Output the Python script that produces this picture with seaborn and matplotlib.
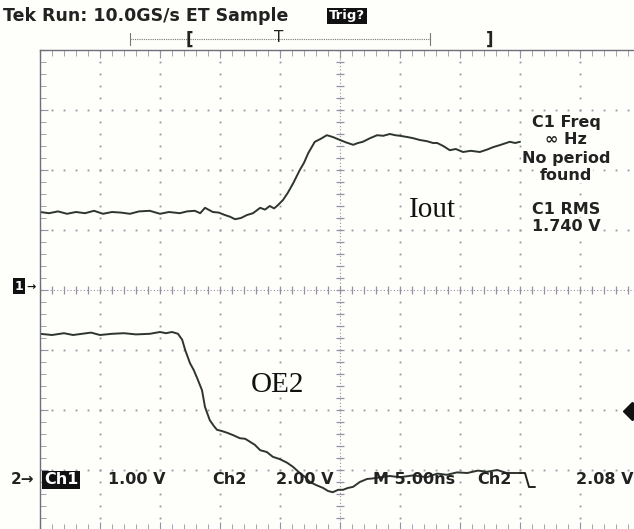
import numpy as np
import matplotlib
matplotlib.use("Agg")
import matplotlib.pyplot as plt
import seaborn as sns

# screen values in divisions (x: -5..5, y: -4..4)
iout_x = [-5.00, -4.85, -4.70, -4.55, -4.40, -4.25, -4.10, -3.95, -3.80, -3.65, -3.50, -3.35,
          -3.17, -3.00, -2.85, -2.67, -2.55, -2.42, -2.33, -2.25, -2.12, -2.02,
          -1.92, -1.83, -1.75, -1.65, -1.55, -1.45, -1.33, -1.25, -1.17, -1.10, -1.05, -0.95,
          -0.87, -0.78, -0.67, -0.60, -0.53, -0.42, -0.32, -0.22, -0.12,
          0.00, 0.10, 0.22, 0.30, 0.38, 0.50, 0.62, 0.72, 0.83, 0.92, 1.00, 1.12, 1.22, 1.33,
          1.45, 1.55, 1.62, 1.72, 1.83, 1.93, 2.05, 2.18, 2.33, 2.45, 2.55, 2.68, 2.83, 2.92, 3.00]
iout_y = [1.30, 1.28, 1.31, 1.27, 1.30, 1.28, 1.32, 1.27, 1.30, 1.29, 1.27, 1.31,
          1.32, 1.27, 1.30, 1.28, 1.31, 1.32, 1.28, 1.37, 1.30, 1.29,
          1.25, 1.22, 1.18, 1.20, 1.25, 1.28, 1.37, 1.34, 1.40, 1.36, 1.40, 1.50,
          1.62, 1.78, 2.00, 2.12, 2.28, 2.47, 2.52, 2.58, 2.55,
          2.50, 2.46, 2.42, 2.45, 2.47, 2.53, 2.58, 2.57, 2.60, 2.58, 2.57, 2.55, 2.53, 2.50,
          2.48, 2.45, 2.45, 2.40, 2.33, 2.35, 2.30, 2.32, 2.30, 2.34, 2.38, 2.42, 2.47, 2.45, 2.47]

oe2_x = [-5.00, -4.80, -4.60, -4.45, -4.30, -4.15, -4.00, -3.80, -3.60, -3.40, -3.17, -3.00,
         -2.90, -2.80, -2.70, -2.63, -2.58, -2.50, -2.44, -2.38, -2.30, -2.25, -2.17, -2.10,
         -2.05, -1.97, -1.88, -1.78, -1.67, -1.58, -1.50, -1.42, -1.33, -1.22, -1.12, -1.00,
         -0.88, -0.78, -0.67, -0.58, -0.50, -0.40, -0.28, -0.20, -0.12, -0.03, 0.05, 0.13,
         0.22, 0.33, 0.45, 0.55, 0.67, 0.83, 1.00, 1.22, 1.45, 1.62, 1.78, 1.95, 2.12, 2.30,
         2.45, 2.62, 2.78, 3.00]
oe2_y = [-0.73, -0.75, -0.72, -0.75, -0.73, -0.71, -0.75, -0.73, -0.72, -0.74, -0.73, -0.70,
         -0.72, -0.70, -0.73, -0.83, -1.00, -1.22, -1.33, -1.47, -1.67, -1.95, -2.17, -2.27,
         -2.33, -2.35, -2.38, -2.42, -2.47, -2.48, -2.53, -2.58, -2.67, -2.70, -2.78, -2.82,
         -2.88, -2.95, -3.05, -3.12, -3.20, -3.25, -3.30, -3.35, -3.37, -3.33, -3.33, -3.30,
         -3.28, -3.20, -3.15, -3.14, -3.12, -3.10, -3.12, -3.09, -3.12, -3.06, -3.08, -3.04,
         -3.05, -3.01, -3.03, -3.00, -3.05, -3.05]

readout_lines = ["C1 Freq", "\u221e Hz", "No period", "found", "C1 RMS", "1.740 V"]
bottom_labels = ["1.00 V", "Ch2", "2.00 V", "M 5.00ns", "Ch2", "2.08 V"]

W, H = 634, 529
BG = "#fefefb"
GRID = "#9a90a6"
TRACE = "#2e3530"
INK = "#222222"

sns.set_style("white")
plt.rcParams["font.family"] = ["DejaVu Sans"]

fig = plt.figure(figsize=(W / 100, H / 100), dpi=100, facecolor=BG)
ax = fig.add_axes([40 / W, (H - 530) / H, 600 / W, 480 / H], facecolor=BG)
ax.set_xlim(-5, 5)
ax.set_ylim(-4, 4)


def px(x, y):
    return x / W, 1 - y / H


# graticule: dotted division lines
minor = np.arange(-5, 5.01, 0.2)
minor_y = np.arange(-4, 4.01, 0.2)
for gx in range(-4, 5):
    if gx == 0:
        continue
    ax.plot(np.full_like(minor_y, gx), minor_y, ls="none", marker="s", ms=1.3, color=GRID, mew=0)
for gy in range(-3, 4):
    if gy == 0:
        continue
    ax.plot(minor, np.full_like(minor, gy), ls="none", marker="s", ms=1.3, color=GRID, mew=0)

# centre cross with small ticks
ax.plot(minor, np.zeros_like(minor), ls="none", marker="|", ms=6, color=GRID, mew=0.9)
ax.plot(np.zeros_like(minor_y), minor_y, ls="none", marker="_", ms=6, color=GRID, mew=0.9)
ax.axhline(0, color=GRID, lw=0.8, ls=(0, (1, 2)))
ax.axvline(0, color=GRID, lw=0.8, ls=(0, (1, 2)))

for s in ["left", "top", "bottom"]:
    ax.spines[s].set_color("#6f6f78")
    ax.spines[s].set_linewidth(1.0)
ax.spines["right"].set_visible(False)
ax.set_xticks(np.arange(-5, 5.01, 1))
ax.set_yticks(np.arange(-4, 4.01, 1))
ax.set_xticks(minor, minor=True)
ax.set_yticks(minor_y, minor=True)
ax.tick_params(which="both", direction="in", top=True, bottom=True, left=True,
               labelbottom=False, labelleft=False, color=GRID)
ax.tick_params(which="major", length=6)
ax.tick_params(which="minor", length=4)

# traces
sns.lineplot(x=iout_x, y=iout_y, ax=ax, color=TRACE, linewidth=1.4, sort=False)
sns.lineplot(x=oe2_x, y=oe2_y, ax=ax, color=TRACE, linewidth=1.4, sort=False)

# header
fig.text(*px(3, 16), "Tek Run: 10.0GS/s ET Sample", fontsize=12.5, weight="bold", color=INK,
         va="center", ha="left")
fig.text(*px(347, 16), "Trig?", fontsize=9.5, color="white", weight="bold", va="center",
         ha="center", bbox=dict(facecolor="#111111", edgecolor="none", pad=1.2))
fig.add_artist(plt.Line2D([130 / W, 430 / W], [1 - 39 / H] * 2, color="#777777", lw=0.8,
                          ls=(0, (1, 1))))
for bx in [130, 430]:
    fig.add_artist(plt.Line2D([bx / W] * 2, [1 - 33 / H, 1 - 45 / H], color="#777777", lw=0.8))
fig.text(*px(189, 40), "[", fontsize=12, weight="bold", color=INK, va="center", ha="center")
fig.text(*px(279, 38), "T", fontsize=11, color=INK, va="center", ha="center")
fig.text(*px(490, 40), "]", fontsize=12, weight="bold", color=INK, va="center", ha="center")

# measurement readouts
readout_y = [122, 140, 158, 175, 209, 226]
for txt, ry in zip(readout_lines, readout_y):
    fig.text(*px(566, ry), txt, fontsize=11.5, weight="bold", color=INK, va="center",
             ha="center", bbox=dict(facecolor=BG, edgecolor="none", pad=0.5))

# channel markers
fig.text(*px(19, 286), "1", fontsize=9, color="white", weight="bold", va="center", ha="center",
         bbox=dict(facecolor="#111111", edgecolor="none", pad=1.2))
fig.text(*px(31, 287), "\u2192", fontsize=8, weight="bold", color="#111111", va="center",
         ha="center")
fig.text(*px(22, 480), "2\u2192", fontsize=11, weight="bold", color=INK, va="center",
         ha="center")
fig.add_artist(plt.Line2D([632 / W], [1 - 411 / H], marker="D", ms=9, color="#111111"))

# bottom status line
fig.text(*px(61, 480), "Ch1", fontsize=11.5, weight="bold", color="white", va="center",
         ha="center", bbox=dict(facecolor="#111111", edgecolor="none", pad=1.0))
bottom_x = [137, 229, 305, 414, 494, 605]
for txt, bx in zip(bottom_labels, bottom_x):
    fig.text(*px(bx, 480), txt, fontsize=11.5, weight="bold", color=INK, va="center",
             ha="center")
# falling-edge trigger symbol after "Ch2"
fig.add_artist(plt.Line2D([520 / W, 525 / W, 529 / W, 535 / W],
                          [1 - 473 / H, 1 - 473 / H, 1 - 487 / H, 1 - 487 / H],
                          color=INK, lw=1.4))

# trace labels
fig.text(*px(432, 210), "Iout", fontsize=21, family="Liberation Serif", color="#111111",
         va="center", ha="center")
fig.text(*px(277, 385), "OE2", fontsize=21, family="Liberation Serif", color="#111111",
         va="center", ha="center")

fig.savefig("out.png", dpi=100, facecolor=BG)
